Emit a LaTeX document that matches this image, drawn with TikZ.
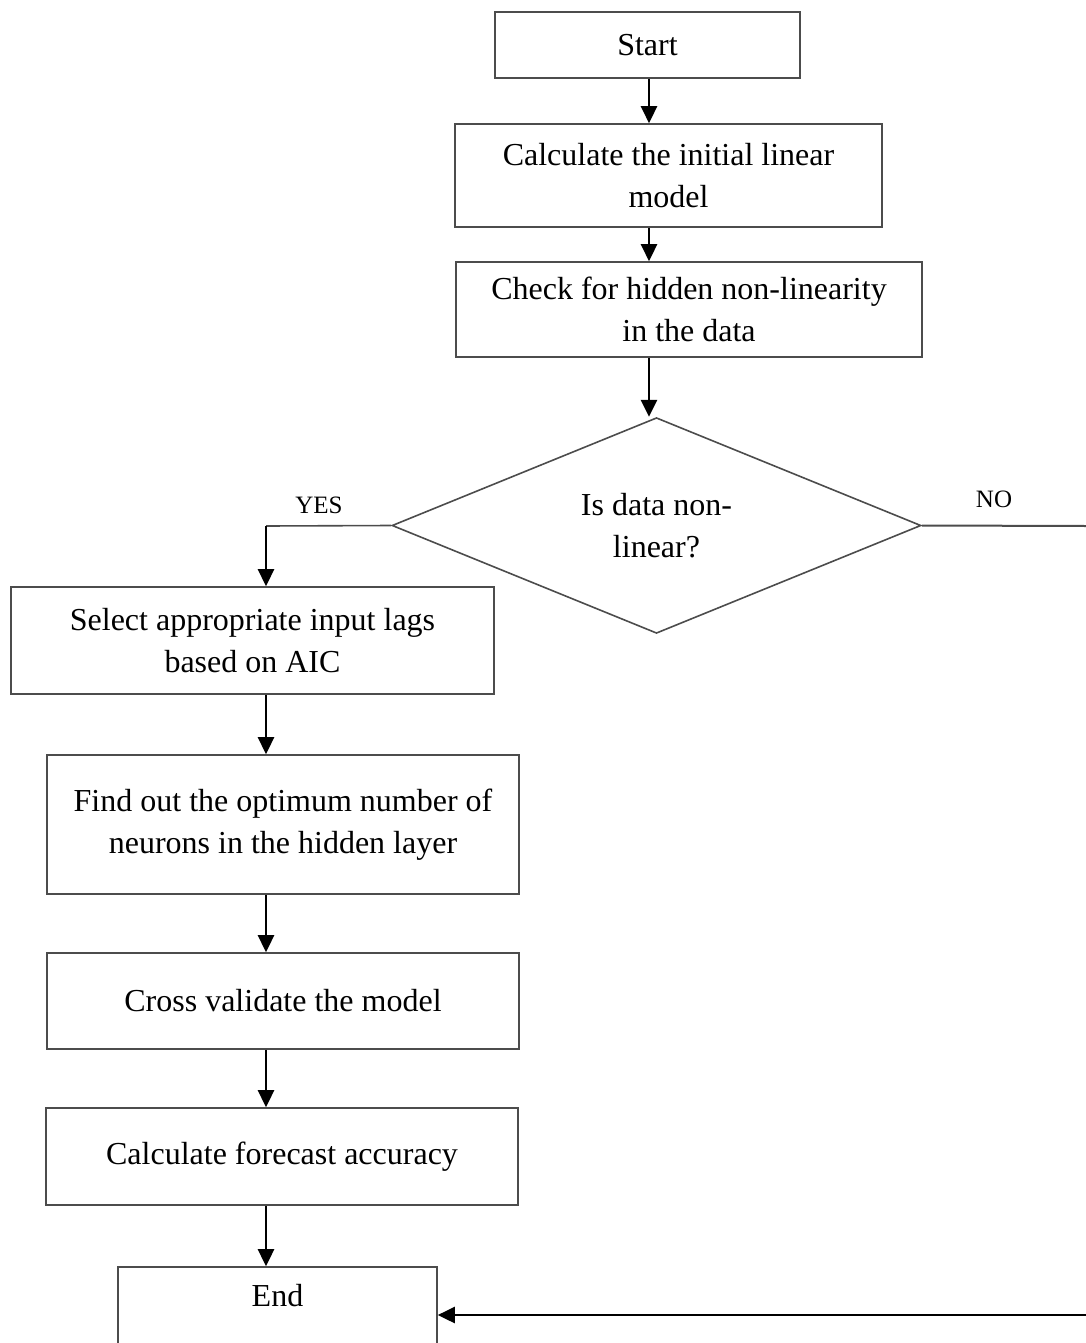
\documentclass[tikz,border=0pt]{standalone}
\usepackage{fontspec}
\setmainfont{Liberation Serif}
\usetikzlibrary{shapes.geometric,arrows.meta}
\begin{document}
\begin{tikzpicture}[x=0.5pt,y=-0.5pt,
  every node/.style={font=\fontsize{16}{21}\selectfont},
  box/.style={draw=black!70,line width=0.8pt,rectangle,align=center,inner sep=0pt},
  decision/.style={draw=black!70,line width=0.8pt,diamond,align=center,inner sep=0pt},
  flow/.style={line width=1.3pt,-{Triangle[length=8.5pt,width=8pt]}},
  thinline/.style={draw=black!70,line width=0.8pt},
  tag/.style={font=\fontsize{12.5}{15}\selectfont}]
\clip (0,0) rectangle (1086,1343);

% process steps
\node[box,minimum width=152.5pt,minimum height=33pt] (start) at (647.5,45) {Start};
\node[box,minimum width=213.5pt,minimum height=51.5pt] (calc) at (668.5,175.5) {Calculate the initial linear\\model};
\node[box,minimum width=233pt,minimum height=47.5pt] (check) at (689,309.5) {Check for hidden non-linearity\\in the data};
\node[decision,minimum width=264.5pt,minimum height=106.5pt] (dec) at (656.5,525.5) {Is data non-\\linear?};
\node[box,minimum width=241.5pt,minimum height=53.5pt] (select) at (252.5,640.5) {Select appropriate input lags\\based on AIC};
\node[box,minimum width=236pt,minimum height=69.5pt] (find) at (283,824.5) {Find out the optimum number of\\neurons in the hidden layer};
\node[box,minimum width=236pt,minimum height=48pt] (cross) at (283,1001) {Cross validate the model};
\node[box,minimum width=236pt,minimum height=48.5pt] (fcst) at (282,1156.5) {Calculate forecast accuracy};
\node[box,minimum width=159.5pt,minimum height=133pt] (end) at (277.5,1400) {};
\node (endtxt) at (277.5,1296) {End};

% branch labels
\node[tag] (yes) at (319,505) {YES};
\node[tag] (no) at (994,499) {NO};

% connector guides
\coordinate (sp) at (649,0);
\coordinate (lsp) at (266,526);
\coordinate (noend) at (1086,526);
\coordinate (ret) at (1086,1315);

% main spine
\draw[flow] (sp |- start.south) -- (sp |- calc.north);
\draw[flow] (sp |- calc.south) -- (sp |- check.north);
\draw[flow] (sp |- check.south) -- (sp |- dec.north);

% YES branch
\draw[thinline] (dec.west) -- (lsp);
\draw[flow] (lsp) -- (lsp |- select.north);
\draw[flow] (lsp |- select.south) -- (lsp |- find.north);
\draw[flow] (lsp |- find.south) -- (lsp |- cross.north);
\draw[flow] (lsp |- cross.south) -- (lsp |- fcst.north);
\draw[flow] (lsp |- fcst.south) -- (lsp |- end.north);

% NO branch
\draw[thinline,line width=1pt] (dec.east) -- (noend);
\draw[flow] (ret) -- (ret -| end.east);
\end{tikzpicture}
\end{document}
